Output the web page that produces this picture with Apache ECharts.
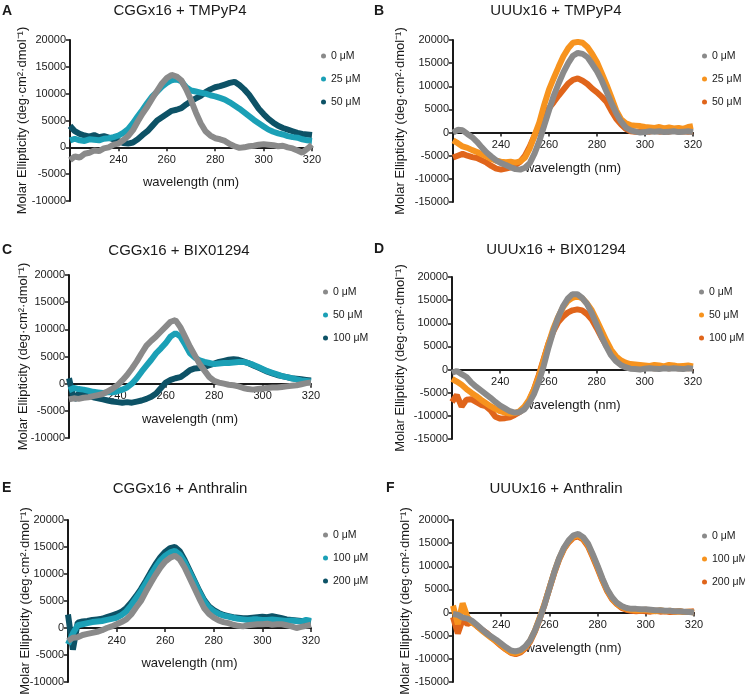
<!DOCTYPE html>
<html>
<head>
<meta charset="utf-8">
<script src="https://cdn.jsdelivr.net/npm/echarts@6/dist/echarts.min.js"></script>
<style>
  html, body { margin: 0; padding: 0; background: #fff; }
  #main { width: 745px; height: 698px; }
</style>
</head>
<body>
<div id="main"></div>
<script>
// wavelength grid (nm) shared by all spectra
var wavelength = [220, 222, 224, 226, 228, 230, 232, 234, 236, 238, 240, 242, 244, 246, 248, 250, 252, 254, 256, 258,
  260, 262, 264, 266, 268, 270, 272, 274, 276, 278, 280, 282, 284, 286, 288, 290, 292, 294, 296, 298,
  300, 302, 304, 306, 308, 310, 312, 314, 316, 318, 320];

var xTicks = [220, 240, 260, 280, 300, 320];

// A: CGGx16 + TMPyP4
var cggTmp0 = [-2400, -1700, -1900, -1200, -1000, -600, -700, -200, 0, 500, 700, 1300, 2100, 3200, 4800, 6300, 7600, 9100, 10500, 11900,
  12900, 13500, 13200, 12500, 10800, 8800, 6500, 4500, 3000, 2200, 1700, 1500, 1200, 600, 200, -100, 0, 200, 300, 500,
  600, 500, 400, 200, 300, 0, -200, -600, -1000, -300, 500];
var cggTmp25 = [1300, 1600, 1300, 1200, 1500, 1400, 1300, 1600, 1700, 1900, 2200, 2700, 3400, 4500, 5800, 7000, 8300, 9500, 10400, 11300,
  12000, 12500, 12700, 12300, 11200, 10600, 10400, 10200, 10000, 9700, 9500, 9200, 8900, 8400, 7800, 7200, 6500, 5800, 5100, 4500,
  3900, 3300, 2900, 2600, 2400, 2100, 1900, 1800, 1500, 1300, 1200];
var cggTmp50 = [4000, 3000, 2500, 2200, 2000, 2300, 1900, 2100, 1800, 1500, 1200, 800, 700, 900, 1500, 2300, 3000, 4000, 5000, 5600,
  6200, 6800, 7000, 7300, 8000, 8600, 9100, 9600, 10300, 10800, 11200, 11400, 11700, 12000, 12200, 11600, 10800, 9800, 8500, 7200,
  6200, 5300, 4600, 4000, 3600, 3300, 3000, 2700, 2500, 2400, 2300];

// B: UUUx16 + TMPyP4
var uuuTmp0 = [0, 600, 500, -300, -1000, -2000, -3200, -4300, -5200, -6000, -6600, -7000, -7500, -7900, -8000, -7600, -6600, -4500, -1800, 1500,
  4800, 8000, 10600, 13000, 15000, 16600, 17200, 17000, 16300, 14800, 13200, 11200, 8800, 6400, 4200, 2400, 1100, 500, 200, 0,
  100, 300, 200, 300, 100, 200, 300, 100, 200, 300, 100];
var uuuTmp25 = [-1700, -2300, -3000, -3300, -3800, -4200, -4700, -5200, -5700, -6100, -6300, -6400, -6300, -6500, -6200, -5400, -3400, -600, 2200, 6000,
  9300, 11800, 14200, 16500, 18200, 19400, 19600, 19400, 18500, 17000, 15200, 12800, 10300, 7600, 4800, 2900, 2000, 1600, 1500, 1400,
  1200, 1100, 1000, 1200, 900, 1100, 900, 1000, 800, 1200, 1400];
var uuuTmp50 = [-5400, -5000, -4600, -5000, -5300, -5500, -6000, -6500, -7200, -7800, -8000, -7800, -7500, -7000, -6300, -5000, -3000, -600, 1600, 3600,
  5300, 6600, 8000, 9300, 10600, 11400, 11700, 11200, 10500, 9500, 8700, 7700, 6600, 4700, 3000, 1800, 800, 300, 200, 100,
  300, 200, 400, 200, 300, 200, 400, 200, 300, 200, 300];

// C: CGGx16 + BIX01294
var cggBix0 = [-2900, -2700, -2800, -2600, -2500, -2300, -2100, -1900, -1400, -900, -300, 600, 1600, 2800, 4100, 5600, 7000, 7900, 8700, 9600,
  10500, 11400, 11700, 10400, 8600, 6800, 5200, 3600, 2400, 1200, 500, 200, 0, -200, -300, -500, -800, -1000, -1100, -1000,
  -900, -800, -700, -700, -600, -500, -400, -300, -100, 100, 200];
var cggBix50 = [-1200, -800, -1000, -1100, -1300, -1500, -1600, -1700, -1600, -1600, -1400, -1100, -700, 0, 1000, 2200, 3300, 4400, 5600, 6500,
  7500, 8700, 9300, 8700, 7200, 5600, 4800, 4300, 4000, 3800, 3600, 3700, 3800, 3800, 3900, 4000, 4000, 3800, 3500, 3100,
  2700, 2300, 2000, 1700, 1400, 1200, 1000, 800, 600, 500, 400];
var cggBix100 = [1000, -3000, -1800, -1700, -2200, -2500, -2700, -2900, -3100, -3300, -3400, -3500, -3400, -3500, -3300, -3100, -2800, -2400, -1800, -800,
  200, 700, 1000, 1200, 1800, 2500, 2800, 2900, 3100, 3400, 3700, 4000, 4200, 4400, 4500, 4400, 4100, 3800, 3400, 3000,
  2600, 2200, 1900, 1600, 1400, 1200, 1000, 900, 800, 700, 600];

// D: UUUx16 + BIX01294
var uuuBix0 = [-700, -300, -1000, -1600, -2800, -3700, -4500, -5300, -6100, -7000, -7800, -8400, -9000, -9300, -9200, -8600, -7200, -5300, -2600, 700,
  4700, 8200, 11200, 13600, 15300, 16300, 16300, 15500, 14200, 12200, 9700, 7200, 5000, 3100, 1800, 1000, 500, 200, 100, 0,
  200, 300, 200, 100, 300, 200, 300, 200, 100, 300, 200];
var uuuBix50 = [-2000, -2600, -3300, -4200, -5000, -5700, -6500, -7200, -7900, -8500, -9000, -9300, -9500, -9400, -9000, -8000, -6500, -4300, -1500, 2000,
  5500, 8800, 11300, 13400, 14800, 15500, 15800, 15400, 14300, 12800, 10700, 8500, 6300, 4300, 2900, 2000, 1500, 1200, 1100, 1000,
  900, 800, 1000, 900, 700, 1000, 900, 700, 800, 900, 700];
var uuuBix100 = [-7000, -5500, -8000, -6500, -6400, -7000, -7600, -7900, -8800, -10200, -10600, -10500, -10300, -9800, -9200, -8400, -6800, -4300, -1200, 2200,
  5600, 8200, 10200, 11400, 12300, 12800, 13000, 12800, 12000, 10800, 9000, 7000, 5200, 3700, 2400, 1400, 900, 600, 500, 400,
  500, 400, 300, 500, 400, 300, 400, 300, 400, 300, 400];

// E: CGGx16 + Anthralin
var cggAnt0 = [-2400, -1800, -1700, -1300, -1100, -900, -700, -400, 0, 300, 700, 1100, 1600, 2500, 3800, 5000, 6700, 8300, 9800, 11200,
  12300, 13000, 13400, 12700, 11200, 9300, 7400, 5500, 3700, 2600, 1900, 1400, 1100, 900, 600, 400, 300, 500, 600, 700,
  700, 800, 600, 700, 700, 500, 300, 0, 200, 400, 600];
var cggAnt100 = [-3000, -1000, 500, 700, 900, 1100, 1200, 1300, 1500, 1700, 1900, 2400, 3100, 4200, 5500, 6800, 8300, 9800, 11200, 12500,
  13400, 14000, 14300, 13600, 12200, 10400, 8600, 6700, 5000, 3800, 3100, 2600, 2300, 2100, 1900, 1700, 1600, 1500, 1600, 1600,
  1500, 1500, 1600, 1500, 1400, 1300, 1400, 1300, 1200, 1500, 1300];
var cggAnt200 = [2500, -4000, 1000, 1200, 1300, 1500, 1600, 1700, 2000, 2300, 2600, 3000, 3700, 4700, 5900, 7200, 8700, 10300, 11800, 13100,
  14100, 14800, 15000, 14200, 12600, 10700, 8800, 6900, 5200, 4000, 3300, 2800, 2400, 2200, 2000, 1900, 1800, 1800, 1900, 2000,
  2100, 2000, 2200, 2000, 1800, 1600, 1500, 1400, 1300, 1200, 1100];

// F: UUUx16 + Anthralin
var uuuAnt0 = [-300, -500, -1100, -1300, -1800, -2700, -3600, -4500, -5200, -5900, -6700, -7500, -8200, -8400, -8100, -7300, -6000, -3900, -1300, 1700,
  5200, 8700, 11700, 14000, 15600, 16700, 17000, 16300, 14900, 12600, 10100, 7400, 5000, 3300, 2100, 1400, 1000, 800, 800, 700,
  700, 600, 500, 500, 400, 400, 300, 300, 200, 100, 0];
var uuuAnt100 = [1500, -2500, 2000, -1000, -2200, -2900, -3900, -4700, -5500, -6200, -7000, -7900, -8600, -8800, -8400, -7500, -6100, -3900, -1100, 1900,
  5300, 8700, 11600, 13800, 15400, 16400, 16700, 16000, 14600, 12300, 9800, 7100, 4800, 3100, 1900, 1200, 800, 600, 500, 500,
  600, 400, 300, 500, 300, 400, 200, 300, 100, 200, 0];
var uuuAnt200 = [-1000, -4500, -1500, -2500, -2000, -3000, -3700, -4400, -5400, -6300, -7200, -8000, -8700, -9000, -8600, -7700, -6300, -4100, -1300, 1800,
  5200, 8500, 11400, 13700, 15200, 16200, 16400, 15800, 14300, 12000, 9500, 6900, 4600, 2900, 1800, 1000, 600, 400, 300, 400,
  300, 200, 400, 200, 300, 100, 200, 300, 100, 200, 300];

var GRAY = '#8a8a8a', CYAN = '#1ba0b6', TEAL = '#0d5266', ORANGE = '#f7931e', DKORANGE = '#e0651b';

var panels = [
  { letter: 'A', title: 'CGGx16 + TMPyP4', ymin: -10000, ymax: 20000,
    labels: ['0 μM', '25 μM', '50 μM'], values: [cggTmp0, cggTmp25, cggTmp50], colors: [GRAY, CYAN, TEAL],
    grid: { left: 70, top: 40, width: 242, height: 161 }, nameGap: 41, titleX: 180, titleY: 11, letterX: 2, letterY: 11, legend: [316, 44] },
  { letter: 'B', title: 'UUUx16 + TMPyP4', ymin: -15000, ymax: 20000,
    labels: ['0 μM', '25 μM', '50 μM'], values: [uuuTmp0, uuuTmp25, uuuTmp50], colors: [GRAY, ORANGE, DKORANGE],
    grid: { left: 453, top: 40, width: 240, height: 162 }, nameGap: 46, titleX: 556, titleY: 11, letterX: 374, letterY: 11, legend: [697, 44] },
  { letter: 'C', title: 'CGGx16 + BIX01294', ymin: -10000, ymax: 20000,
    labels: ['0 μM', '50 μM', '100 μM'], values: [cggBix0, cggBix50, cggBix100], colors: [GRAY, CYAN, TEAL],
    grid: { left: 69, top: 275, width: 242, height: 163 }, nameGap: 39, titleX: 179, titleY: 251, letterX: 2, letterY: 250, legend: [318, 280] },
  { letter: 'D', title: 'UUUx16 + BIX01294', ymin: -15000, ymax: 20000,
    labels: ['0 μM', '50 μM', '100 μM'], values: [uuuBix0, uuuBix50, uuuBix100], colors: [GRAY, ORANGE, DKORANGE],
    grid: { left: 452, top: 277, width: 241, height: 162 }, nameGap: 45, titleX: 556, titleY: 250, letterX: 374, letterY: 249, legend: [694, 280] },
  { letter: 'E', title: 'CGGx16 + Anthralin', ymin: -10000, ymax: 20000,
    labels: ['0 μM', '100 μM', '200 μM'], values: [cggAnt0, cggAnt100, cggAnt200], colors: [GRAY, CYAN, TEAL],
    grid: { left: 68, top: 520, width: 243, height: 162 }, nameGap: 36, titleX: 180, titleY: 489, letterX: 2, letterY: 488, legend: [318, 523] },
  { letter: 'F', title: 'UUUx16 + Anthralin', ymin: -15000, ymax: 20000,
    labels: ['0 μM', '100 μM', '200 μM'], values: [uuuAnt0, uuuAnt100, uuuAnt200], colors: [GRAY, ORANGE, DKORANGE],
    grid: { left: 453, top: 520, width: 241, height: 162 }, nameGap: 41, titleX: 556, titleY: 489, letterX: 386, letterY: 488, legend: [697, 524] }
];

var FONT = '"Liberation Sans", Arial, sans-serif';
var INK = '#1a1a1a';

var grids = [], xAxes = [], yAxes = [], series = [], legends = [], texts = [];

panels.forEach(function (p, i) {
  grids.push(p.grid);
  // distance from the grid bottom up to the zero line; labels and name follow the zero line
  var zeroUp = p.grid.height * (0 - p.ymin) / (p.ymax - p.ymin);
  xAxes.push({
    type: 'value', gridIndex: i, min: xTicks[0], max: xTicks[xTicks.length - 1], interval: 20,
    axisLine: { onZero: true, lineStyle: { color: INK, width: 2 } },
    axisTick: { length: 4, lineStyle: { color: INK, width: 1.5 } },
    axisLabel: { showMinLabel: false, fontSize: 11, color: INK, fontFamily: FONT, margin: 7 - zeroUp },
    splitLine: { show: false },
    name: 'wavelength (nm)', nameLocation: 'middle', nameGap: 29 - zeroUp, nameMoveOverlap: false,
    nameTextStyle: { fontSize: 13, color: INK, fontFamily: FONT }
  });
  yAxes.push({
    type: 'value', gridIndex: i, min: p.ymin, max: p.ymax, interval: 5000,
    axisLine: { show: true, onZero: false, lineStyle: { color: INK, width: 2 } },
    axisTick: { show: true, length: 4, lineStyle: { color: INK, width: 1.5 } },
    axisLabel: { fontSize: 11, color: INK, fontFamily: FONT, margin: 4,
      formatter: function (v) { return String(v); } },
    splitLine: { show: false },
    name: 'Molar Ellipticity (deg·cm²·dmol⁻¹)', nameLocation: 'middle', nameGap: p.nameGap, nameMoveOverlap: false,
    nameTextStyle: { fontSize: 13, color: INK, fontFamily: FONT }
  });
  // draw highest concentration first so 0 μM sits on top
  for (var k = p.values.length - 1; k >= 0; k--) {
    var vals = p.values[k];
    series.push({
      name: p.letter + '|' + p.labels[k],
      type: 'line', xAxisIndex: i, yAxisIndex: i,
      showSymbol: false, animation: false,
      color: p.colors[k],
      lineStyle: { width: 6, color: p.colors[k] },
      data: wavelength.map(function (w, j) { return [w, vals[j]]; })
    });
  }
  legends.push({
    data: p.labels.map(function (l) { return p.letter + '|' + l; }),
    left: p.legend[0], top: p.legend[1], orient: 'vertical',
    icon: 'circle', itemWidth: 5, itemHeight: 5, itemGap: 9,
    selectedMode: false,
    formatter: function (n) { return n.split('|')[1]; },
    textStyle: { fontSize: 10.5, color: INK, fontFamily: FONT, lineHeight: 14 }
  });
  texts.push({
    type: 'text', x: p.titleX, y: p.titleY,
    style: { text: p.title, font: '15px ' + FONT, fill: INK, textAlign: 'center', textVerticalAlign: 'middle' }
  });
  texts.push({
    type: 'text', x: p.letterX, y: p.letterY,
    style: { text: p.letter, font: 'bold 14px ' + FONT, fill: INK, textAlign: 'left', textVerticalAlign: 'middle' }
  });
});

var chart = echarts.init(document.getElementById('main'), null, { renderer: 'canvas' });
chart.setOption({
  backgroundColor: '#ffffff',
  animation: false,
  grid: grids,
  xAxis: xAxes,
  yAxis: yAxes,
  legend: legends,
  graphic: texts,
  series: series
});
</script>
</body>
</html>
